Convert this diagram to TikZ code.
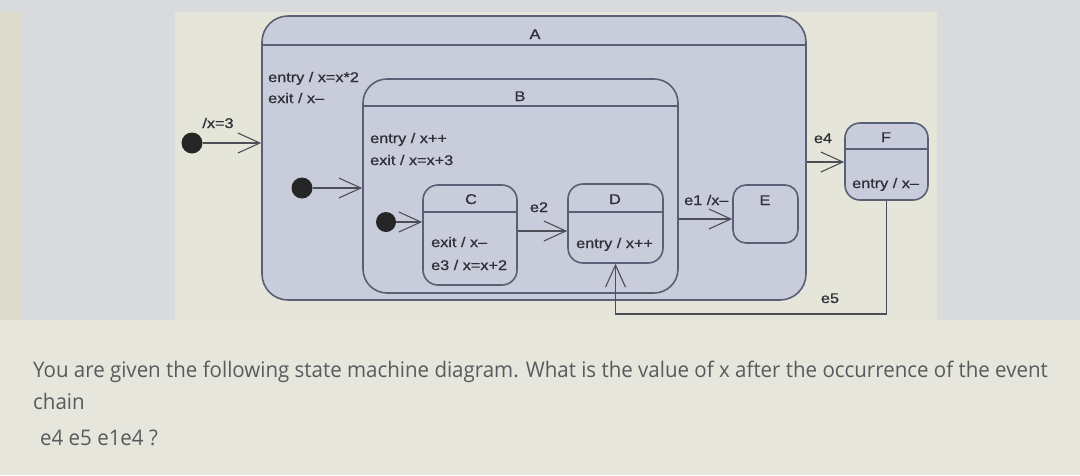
\documentclass[tikz,border=0pt]{standalone}
\usepackage{fontspec}
\usetikzlibrary{arrows.meta}
\newfontfamily\dfont[FakeStretch=1.16,FakeBold=0.8,Ligatures=TeX]{Liberation Sans}
\newfontfamily\qfont[FakeStretch=0.953]{Open Sans}
\definecolor{bggrey}{HTML}{D9DADC}
\definecolor{panel}{HTML}{E6E5DA}
\definecolor{lowbg}{HTML}{E7E6DC}
\definecolor{leftstrip}{HTML}{DDDCCC}
\definecolor{stfill}{HTML}{C9CCDB}
\definecolor{stline}{HTML}{596075}
\definecolor{txt}{HTML}{2E3038}
\definecolor{qtxt}{HTML}{5A5A5E}
\tikzset{
  st/.style={draw=stline, fill=stfill, line width=1.6pt, inner sep=0pt, rectangle},
  divl/.style={draw=stline, line width=1.6pt},
  lbl/.style={font=\dfont\fontsize{14}{16}\selectfont, text=txt, inner sep=0pt},
  dot/.style={circle, fill=black!85, draw=none, minimum size=21pt, inner sep=0pt},
  tr/.style={draw=txt!85, line width=1.2pt, -{Straight Barb[length=22pt,width=20pt,line width=1.1pt]}},
  ql/.style={font=\qfont\fontsize{21.5}{24}\selectfont, text=qtxt, inner sep=0pt, anchor=base west}
}
\begin{document}
\begin{tikzpicture}[x=1pt,y=-1pt]
\useasboundingbox (0,0) rectangle (1080,475);
% background
\fill[bggrey] (0,0) rectangle (1080,475);
\fill[leftstrip] (0,12) rectangle (22,475);
\fill[panel] (175,12) rectangle (937,320);
\fill[lowbg] (0,320) rectangle (1080,475);
% states
\node[st, rounded corners=26pt, minimum width=544pt, minimum height=284pt] (A) at (534,158) {};
\draw[divl] (A.west |- 0,45) -- (A.east |- 0,45);
\node[st, rounded corners=24pt, minimum width=315pt, minimum height=214pt] (B) at (520.5,186) {};
\draw[divl] (B.west |- 0,106) -- (B.east |- 0,106);
\node[st, rounded corners=15pt, minimum width=94pt, minimum height=100pt] (C) at (470,235) {};
\draw[divl] (C.west |- 0,212) -- (C.east |- 0,212);
\node[st, rounded corners=15pt, minimum width=95pt, minimum height=79pt] (D) at (615.5,223.5) {};
\draw[divl] (D.west |- 0,212) -- (D.east |- 0,212);
\node[st, rounded corners=13pt, minimum width=65pt, minimum height=58pt] (E) at (765.5,214) {};
\node[st, rounded corners=15pt, minimum width=83pt, minimum height=77pt] (F) at (886.5,161.5) {};
\draw[divl] (F.west |- 0,149) -- (F.east |- 0,149);
% state texts
\node[lbl, anchor=base] (tA) at (535,39) {A};
\node[lbl, anchor=base west] (tA1) at (268,82) {entry / x=x*2};
\node[lbl, anchor=base west] (tA2) at (268,103) {exit / x--};
\node[lbl, anchor=base] (tB) at (520,101) {B};
\node[lbl, anchor=base west] (tB1) at (370,143) {entry / x++};
\node[lbl, anchor=base west] (tB2) at (370,165) {exit / x=x+3};
\node[lbl, anchor=base] (tC) at (471,204) {C};
\node[lbl, anchor=base west] (tC1) at (431,247) {exit / x--};
\node[lbl, anchor=base west] (tC2) at (431,270) {e3 / x=x+2};
\node[lbl, anchor=base] (tD) at (615,204) {D};
\node[lbl, anchor=base west] (tD1) at (576,248) {entry / x++};
\node[lbl, anchor=base] (tE) at (765,205) {E};
\node[lbl, anchor=base] (tF) at (886,142) {F};
\node[lbl, anchor=base west] (tF1) at (852,188) {entry / x--};
% initial pseudostates
\node[dot] (i0) at (192,143) {};
\node[dot] (i1) at (302,188) {};
\node[dot, minimum size=20pt] (i2) at (386,222) {};
% transitions
\draw[tr] (i0) -- (i0 -| A.west);
\draw[tr] (i1) -- (i1 -| B.west);
\draw[tr] (i2) -- (i2 -| C.west);
\draw[tr] (C.east |- 0,231) -- (D.west |- 0,231);
\draw[tr] (B.east |- 0,219) -- (E.west |- 0,219);
\draw[tr] (A.east |- 0,162) -- (F.west |- 0,162);
\coordinate (k5) at (0,314);
\draw[tr] (F.south) -- (F.south |- k5) -- (D.south |- k5) -- (D.south);
% transition labels
\node[lbl, anchor=base] (l0) at (218,128) {/x=3};
\node[lbl, anchor=base] (l2) at (539,212) {e2};
\node[lbl, anchor=base west] (l1) at (684,205) {e1 /x--};
\node[lbl, anchor=base] (l4) at (823,143) {e4};
\node[lbl, anchor=base] (l5) at (830,303) {e5};
% question
\node[ql] (q1) at (33,377) {You are given the following state machine diagram. What is the value of x after the occurrence of the event};
\node[ql] (q2) at (33,409) {chain};
\node[ql] (q3) at (40,445) {e4 e5 e1e4 ?};
\end{tikzpicture}
\end{document}
